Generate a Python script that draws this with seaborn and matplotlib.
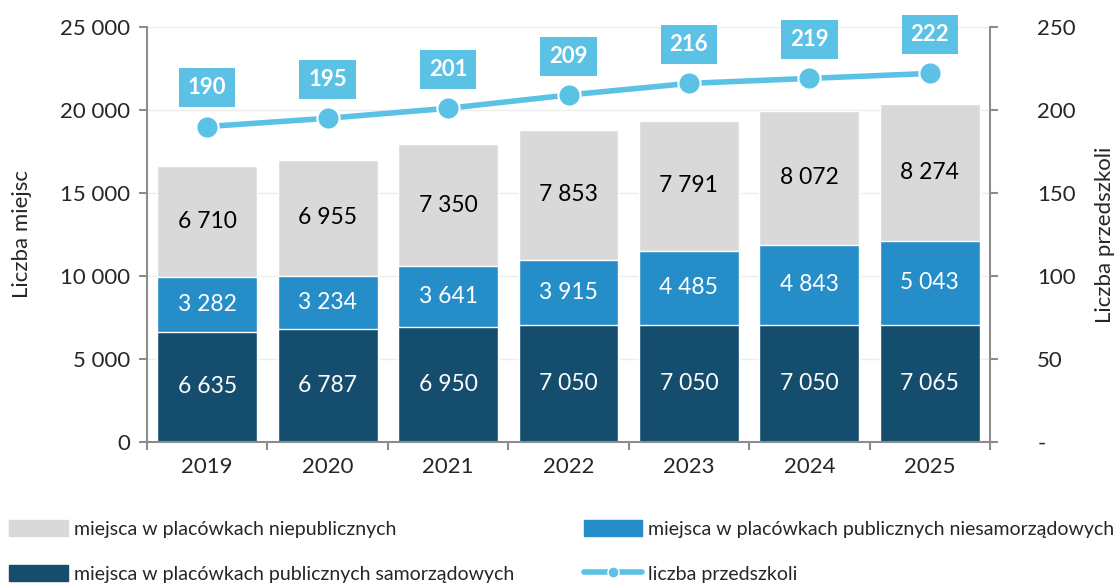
import numpy as np
import pandas as pd
import matplotlib
matplotlib.use("Agg")
import matplotlib.pyplot as plt
import seaborn as sns
from matplotlib.patches import Patch
from matplotlib.lines import Line2D

years = ["2019", "2020", "2021", "2022", "2023", "2024", "2025"]
samorzadowe = [6635, 6787, 6950, 7050, 7050, 7050, 7065]
niesamorzadowe = [3282, 3234, 3641, 3915, 4485, 4843, 5043]
niepubliczne = [6710, 6955, 7350, 7853, 7791, 8072, 8274]
przedszkola = [190, 195, 201, 209, 216, 219, 222]

C_GRAY = "#D9D9D9"
C_MID = "#258DC8"
C_DARK = "#154D6E"
C_LINE = "#5BC2E6"
C_AXIS = "#8C8C8C"

sns.set_theme(style="white")
plt.rcParams["font.family"] = ["Lato", "DejaVu Sans"]


def fmt(v):
    return f"{v:,}".replace(",", " ")


df = pd.DataFrame({
    "rok": years,
    "dark": samorzadowe,
    "mid": np.array(samorzadowe) + np.array(niesamorzadowe),
    "total": np.array(samorzadowe) + np.array(niesamorzadowe) + np.array(niepubliczne),
})

fig = plt.figure(figsize=(11.18, 5.83), dpi=100)
ax = fig.add_axes([0.1315, 0.2418, 0.754, 0.712])

# stacked bars drawn as overlapping cumulative totals
for col, color in [("total", C_GRAY), ("mid", C_MID), ("dark", C_DARK)]:
    sns.barplot(data=df, x="rok", y=col, color=color, width=0.83,
                saturation=1, ax=ax, zorder=2)

for i in range(len(years)):
    ax.text(i, samorzadowe[i] / 2, fmt(samorzadowe[i]), ha="center", va="center",
            color="white", fontsize=16.5, zorder=5)
    ax.text(i, samorzadowe[i] + niesamorzadowe[i] / 2, fmt(niesamorzadowe[i]),
            ha="center", va="center", color="white", fontsize=16.5, zorder=5)
    ax.text(i, df["mid"][i] + niepubliczne[i] / 2, fmt(niepubliczne[i]),
            ha="center", va="center", color="black", fontsize=16.5, zorder=5)

ax.set_xlim(-0.5, len(years) - 0.5)
ax.set_ylim(0, 25000)
ax.set_yticks(np.arange(0, 25001, 5000))
ax.set_yticklabels([fmt(v) for v in range(0, 25001, 5000)])
ax.yaxis.grid(True, color="#EDEDED", linewidth=1, zorder=0)
ax.set_axisbelow(True)
ax.set_xlabel("")
ax.set_ylabel("Liczba miejsc", fontsize=16)
ax.yaxis.set_label_coords(-0.136, 0.5)
ax.set_xticks(np.arange(-0.5, len(years), 1), minor=True)
ax.tick_params(axis="x", which="major", length=0, labelsize=16, pad=11)
ax.tick_params(axis="x", which="minor", length=6, width=1.5, color=C_AXIS, bottom=True)
ax.tick_params(axis="y", length=6, width=1.5, color=C_AXIS, labelsize=16, left=True, pad=6)
for s in ["top", "right"]:
    ax.spines[s].set_visible(False)
for s in ["left", "bottom"]:
    ax.spines[s].set_color(C_AXIS)
    ax.spines[s].set_linewidth(1.5)

ax2 = ax.twinx()
sns.lineplot(x=np.arange(len(years)), y=przedszkola, ax=ax2, color=C_LINE,
             linewidth=4, marker="o", markersize=16, markeredgecolor="white",
             markeredgewidth=1.5, zorder=6)
for i, v in enumerate(przedszkola):
    ax2.annotate(str(v), (i, v), xytext=(0, 28), textcoords="offset points",
                 ha="center", va="center", color="white", fontsize=16,
                 fontweight="bold",
                 bbox=dict(boxstyle="square,pad=0.4", fc=C_LINE, ec="none"))
ax2.set_ylim(0, 250)
ax2.set_yticks(np.arange(0, 251, 50))
ax2.set_yticklabels(["-"] + [str(v) for v in range(50, 251, 50)])
ax2.set_ylabel("Liczba przedszkoli", fontsize=16)
ax2.yaxis.set_label_coords(1.124, 0.5)
ax2.tick_params(axis="y", length=6, width=1.5, color=C_AXIS, labelsize=16, right=True, pad=28)
for s in ["top", "left", "bottom"]:
    ax2.spines[s].set_visible(False)
ax2.spines["right"].set_color(C_AXIS)
ax2.spines["right"].set_linewidth(1.5)
ax2.grid(False)

handles = [
    Patch(color=C_GRAY, label="miejsca w placówkach niepublicznych"),
    Patch(color=C_DARK, label="miejsca w placówkach publicznych samorządowych"),
    Patch(color=C_MID, label="miejsca w placówkach publicznych niesamorządowych"),
    Line2D([0], [0], color=C_LINE, linewidth=4, marker="o", markersize=8,
           markeredgecolor="white", label="liczba przedszkoli"),
]
fig.legend(handles=handles, ncol=2, loc="upper left", bbox_to_anchor=(-0.002, 0.128),
           frameon=False, fontsize=14, handlelength=3.0, handleheight=0.9,
           handletextpad=0.3, columnspacing=3.6, labelspacing=1.4,
           borderaxespad=0.2)

fig.savefig("out.png", dpi=100)
